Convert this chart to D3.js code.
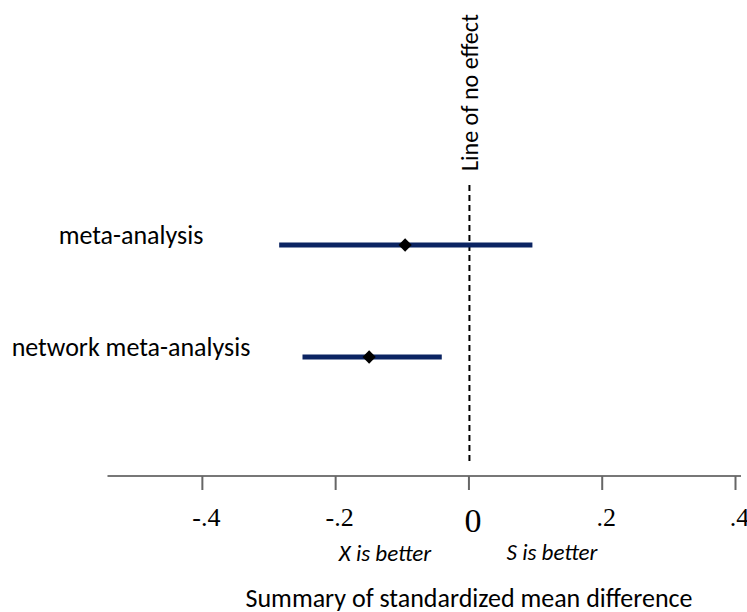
<!DOCTYPE html>
<html>
<head>
<meta charset="utf-8">
<script src="https://cdn.jsdelivr.net/npm/d3@7"></script>
<style>
  body { margin: 0; background: #fff; }
  svg { display: block; }
</style>
</head>
<body>
<svg id="chart" width="747" height="612"></svg>
<script>
// estimates
const studies = ["meta-analysis", "network meta-analysis"];
const estimates = [-0.095, -0.149];
const lowers = [-0.284, -0.249];
const uppers = [0.096, -0.040];
const tickValues = [-0.4, -0.2, 0, 0.2, 0.4];
const tickLabels = ["-.4", "-.2", "0", ".2", ".4"];

const svg = d3.select("#chart");
const labelFont = "Carlito, Lato, 'Open Sans', sans-serif";

// x scale: value -> pixel
const x = d3.scaleLinear()
    .domain([-0.5416, 0.409])
    .range([107.5, 741]);

// rows
const y = d3.scalePoint()
    .domain(studies)
    .range([245, 357]);

const axisY = 476;

// dashed line of no effect
svg.append("line")
    .attr("x1", x(0) + 1).attr("x2", x(0) + 1)
    .attr("y1", 185).attr("y2", 462)
    .attr("stroke", "#000")
    .attr("stroke-width", 2)
    .attr("stroke-dasharray", "6,4");

svg.append("text")
    .attr("transform", `translate(${x(0) + 10},171) rotate(-90)`)
    .attr("font-family", labelFont)
    .attr("font-size", 24)
    .text("Line of no effect");

// confidence intervals
const rows = studies.map((s, i) => ({ name: s, est: estimates[i], lo: lowers[i], hi: uppers[i] }));

svg.selectAll("line.ci")
    .data(rows)
    .enter()
    .append("line")
    .classed("ci", true)
    .attr("x1", d => x(d.lo))
    .attr("x2", d => x(d.hi))
    .attr("y1", d => y(d.name))
    .attr("y2", d => y(d.name))
    .attr("stroke", "#0b2462")
    .attr("stroke-width", 5);

svg.selectAll("path.est")
    .data(rows)
    .enter()
    .append("path")
    .classed("est", true)
    .attr("d", d3.symbol().type(d3.symbolSquare).size(88))
    .attr("transform", d => `translate(${x(d.est)},${y(d.name)}) rotate(45)`)
    .attr("fill", "#000");

// study labels
svg.selectAll("text.study")
    .data(rows)
    .enter()
    .append("text")
    .classed("study", true)
    .attr("x", 131)
    .attr("y", d => y(d.name) - 1)
    .attr("text-anchor", "middle")
    .attr("font-family", labelFont)
    .attr("font-size", 26)
    .text(d => d.name);

// x axis
const axis = d3.axisBottom(x)
    .tickValues(tickValues)
    .tickSize(14)
    .tickPadding(18)
    .tickFormat((d, i) => tickLabels[i]);

const gAxis = svg.append("g")
    .attr("transform", `translate(0,${axisY})`)
    .call(axis);

gAxis.select(".domain")
    .attr("d", `M${x.range()[0]},0H${x.range()[1]}`)
    .attr("stroke", "#777")
    .attr("stroke-width", 2);
gAxis.selectAll(".tick line")
    .attr("stroke", "#666")
    .attr("stroke-width", 2);
gAxis.selectAll(".tick text")
    .attr("dx", 4)
    .attr("font-family", "'Liberation Serif', 'Times New Roman', serif")
    .attr("font-size", d => d === 0 ? 34 : 26)
    .attr("fill", "#000");

// direction labels
svg.append("text")
    .attr("x", 385).attr("y", 561)
    .attr("text-anchor", "middle")
    .attr("font-family", labelFont)
    .attr("font-style", "italic")
    .attr("font-size", 23)
    .text("X is better");

svg.append("text")
    .attr("x", 552).attr("y", 560)
    .attr("text-anchor", "middle")
    .attr("font-family", labelFont)
    .attr("font-style", "italic")
    .attr("font-size", 23)
    .text("S is better");

svg.append("text")
    .attr("x", 469).attr("y", 607)
    .attr("text-anchor", "middle")
    .attr("font-family", labelFont)
    .attr("font-size", 26)
    .text("Summary of standardized mean difference");
</script>
</body>
</html>
